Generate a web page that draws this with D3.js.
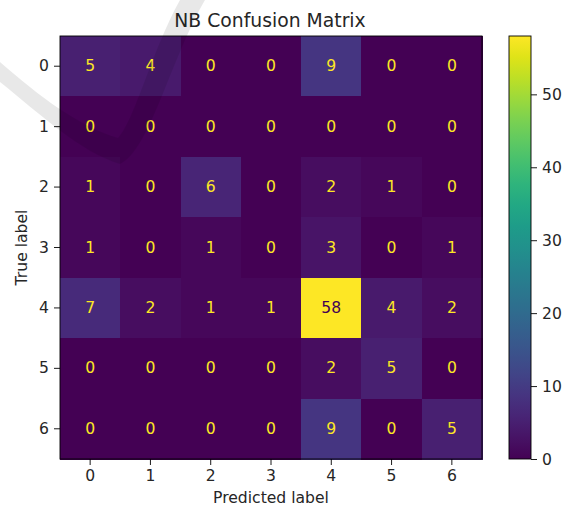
<!DOCTYPE html>
<html>
<head>
<meta charset="utf-8">
<script src="https://cdn.jsdelivr.net/npm/d3@7"></script>
<style>
  body { margin: 0; background: #fff; }
  text { font-family: "DejaVu Sans", sans-serif; fill: #262626; }
</style>
</head>
<body>
<div id="chart"></div>
<script>
"use strict";

var W = 564;
var H = 508;

// Data
var trueLabels = ["0", "1", "2", "3", "4", "5", "6"];
var predLabels = ["0", "1", "2", "3", "4", "5", "6"];
var matrix = [
    [5, 4, 0, 0, 9, 0, 0],
    [0, 0, 0, 0, 0, 0, 0],
    [1, 0, 6, 0, 2, 1, 0],
    [1, 0, 1, 0, 3, 0, 1],
    [7, 2, 1, 1, 58, 4, 2],
    [0, 0, 0, 0, 2, 5, 0],
    [0, 0, 0, 0, 9, 0, 5]
];
var colorTicks = [0, 10, 20, 30, 40, 50];

var plotLeft = 60, plotTop = 36, plotW = 422, plotH = 423;
var cbX = 509, cbW = 22;
var FONT = "15.6px";

var svg = d3.select("#chart").append("svg")
    .attr("width", W)
    .attr("height", H);

var vmax = d3.max(matrix, function (r) { return d3.max(r); });
var color = d3.scaleSequential(d3.interpolateViridis).domain([0, vmax]);

var scaleX = d3.scaleBand().domain(predLabels).range([plotLeft, plotLeft + plotW]);
var scaleY = d3.scaleBand().domain(trueLabels).range([plotTop, plotTop + plotH]);

// Cells
var cells = [];
matrix.forEach(function (row, i) {
    row.forEach(function (v, j) {
        cells.push({ t: trueLabels[i], p: predLabels[j], v: v });
    });
});

svg.append("g").selectAll("rect").data(cells).enter().append("rect")
    .attr("x", function (d) { return scaleX(d.p); })
    .attr("y", function (d) { return scaleY(d.t); })
    .attr("width", scaleX.bandwidth() + 0.6)
    .attr("height", scaleY.bandwidth() + 0.6)
    .attr("shape-rendering", "crispEdges")
    .attr("fill", function (d) { return color(d.v); });

svg.append("g").selectAll("text").data(cells).enter().append("text")
    .attr("x", function (d) { return scaleX(d.p) + scaleX.bandwidth() / 2; })
    .attr("y", function (d) { return scaleY(d.t) + scaleY.bandwidth() / 2; })
    .attr("text-anchor", "middle")
    .attr("dominant-baseline", "central")
    .style("font-size", FONT)
    .style("fill", function (d) { return d.v > vmax / 2 ? color(0) : color(vmax); })
    .text(function (d) { return d.v; });

// Frame
svg.append("rect")
    .attr("x", plotLeft).attr("y", plotTop)
    .attr("width", plotW).attr("height", plotH)
    .attr("fill", "none").attr("stroke", "#000").attr("stroke-width", 0.9);

// Axes
var xAxis = svg.append("g")
    .attr("transform", "translate(0," + (plotTop + plotH) + ")")
    .call(d3.axisBottom(scaleX).tickSize(6).tickPadding(5));
var yAxis = svg.append("g")
    .attr("transform", "translate(" + plotLeft + ",0)")
    .call(d3.axisLeft(scaleY).tickSize(6).tickPadding(5));

[xAxis, yAxis].forEach(function (a) {
    a.select(".domain").remove();
    a.selectAll("line").attr("stroke", "#000").attr("stroke-width", 0.9);
    a.selectAll("text").style("font-size", FONT).style("font-family", "DejaVu Sans").attr("fill", "#262626");
});

svg.append("text")
    .attr("x", plotLeft + plotW / 2)
    .attr("y", 503)
    .attr("text-anchor", "middle")
    .style("font-size", FONT)
    .text("Predicted label");

svg.append("text")
    .attr("transform", "translate(27," + (plotTop + plotH / 2) + ") rotate(-90)")
    .attr("text-anchor", "middle")
    .style("font-size", FONT)
    .text("True label");

svg.append("text")
    .attr("x", plotLeft + plotW / 2 - 1)
    .attr("y", 27)
    .attr("text-anchor", "middle")
    .style("font-size", "18.8px")
    .text("NB Confusion Matrix");

// Colorbar
var cbScale = d3.scaleLinear().domain([0, vmax]).range([plotTop + plotH, plotTop]);
var defs = svg.append("defs");
var grad = defs.append("linearGradient")
    .attr("id", "cbGrad")
    .attr("x1", 0).attr("y1", 1).attr("x2", 0).attr("y2", 0);
d3.range(0, 1.0001, 0.05).forEach(function (t) {
    grad.append("stop")
        .attr("offset", t)
        .attr("stop-color", d3.interpolateViridis(t));
});
svg.append("rect")
    .attr("x", cbX).attr("y", plotTop)
    .attr("width", cbW).attr("height", plotH)
    .attr("fill", "url(#cbGrad)")
    .attr("stroke", "#000").attr("stroke-width", 0.9);

var cbAxis = svg.append("g")
    .attr("transform", "translate(" + (cbX + cbW) + ",0)")
    .call(d3.axisRight(cbScale).tickValues(colorTicks).tickSize(6).tickPadding(5));
cbAxis.select(".domain").remove();
cbAxis.selectAll("line").attr("stroke", "#000").attr("stroke-width", 0.9);
cbAxis.selectAll("text").style("font-size", FONT).style("font-family", "DejaVu Sans").attr("fill", "#262626");

// Faint watermark swoosh
svg.append("path")
    .attr("d", "M0,82 C40,114 80,152 120,164 C150,150 170,60 205,0 L180,0 C152,50 135,120 118,138 C80,127 40,97 0,62 Z")
    .attr("fill", "#000")
    .attr("opacity", 0.09);
</script>
</body>
</html>
